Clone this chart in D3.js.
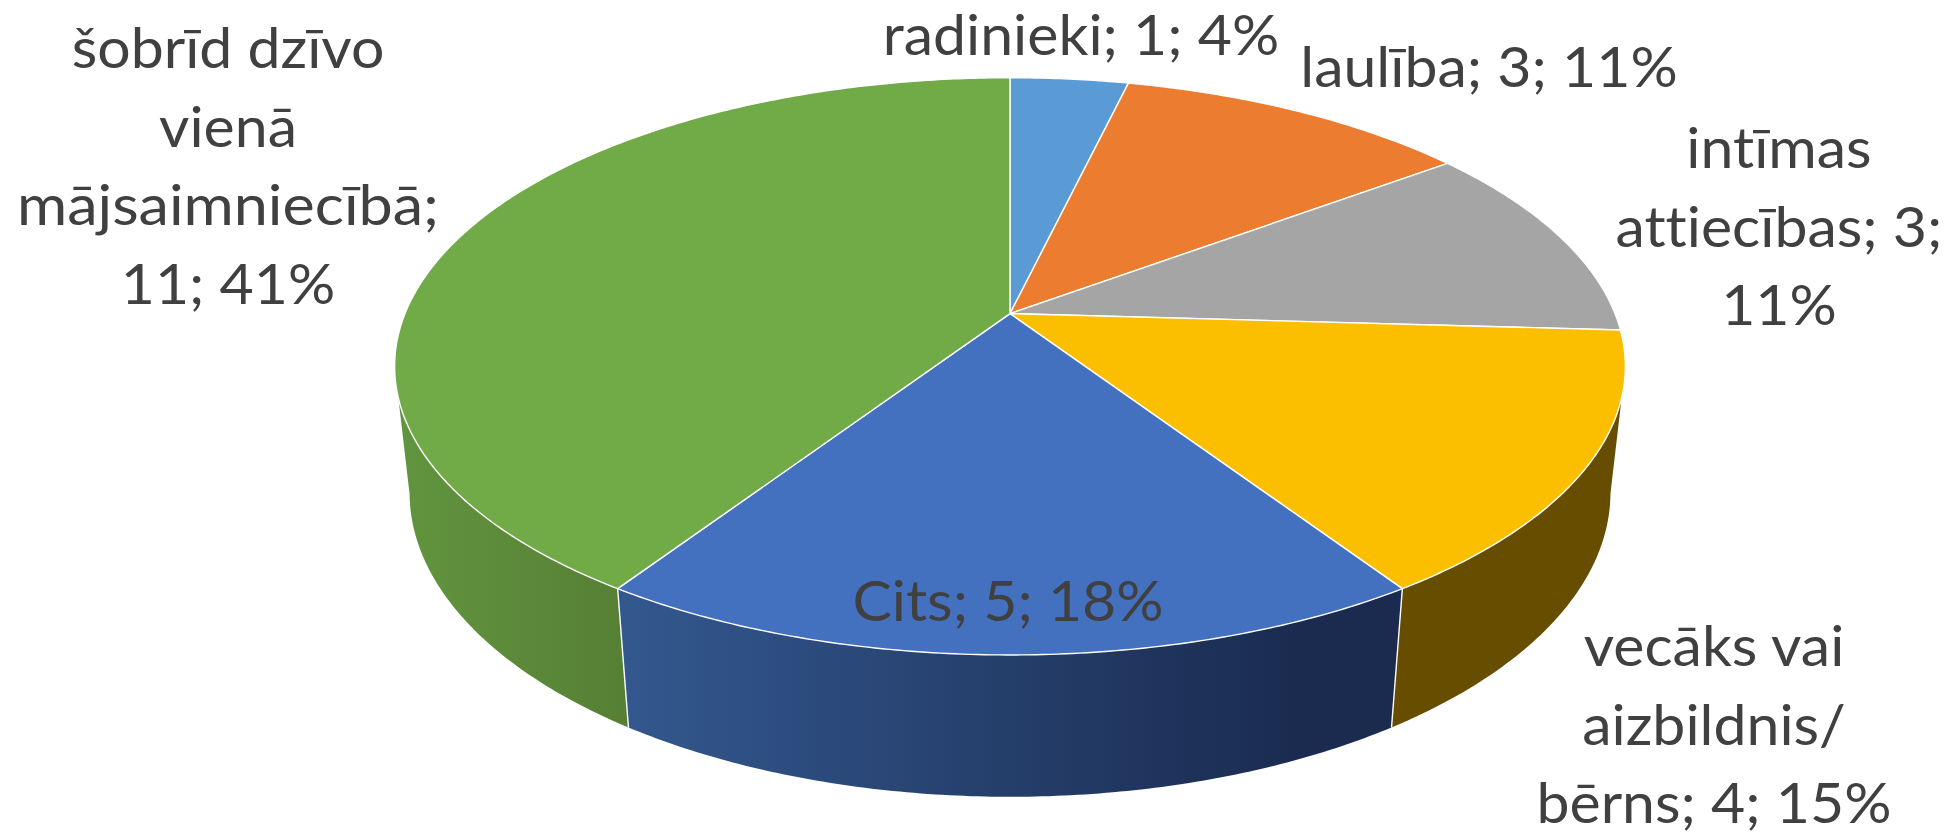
<!DOCTYPE html>
<html><head><meta charset="utf-8">
<script src="https://cdn.jsdelivr.net/npm/d3@7/dist/d3.min.js"></script>
<style>html,body{margin:0;padding:0;background:#fff}svg{display:block}text{font-family:Lato,"Open Sans",sans-serif;fill:#404040;text-anchor:middle;font-variant-ligatures:none}</style>
</head><body><svg id="c" width="1951" height="835"></svg>
<script>
const categories = ["radinieki","laulība","intīmas attiecības","vecāks vai aizbildnis/ bērns","Cits","šobrīd dzīvo vienā mājsaimniecībā"];
const values = [1,3,3,4,5,11];
const topColors = ["#5B9BD5","#EC7C30","#A5A5A5","#FBBF00","#4371BF","#70AB47"];
const labelLines = [
  ["radinieki; 1; 4%"],
  ["laulība; 3; 11%"],
  ["intīmas","attiecības; 3;","11%"],
  ["vecāks vai","aizbildnis/","bērns; 4; 15%"],
  ["Cits; 5; 18%"],
  ["šobrīd dzīvo","vienā","mājsaimniecībā;","11; 41%"]
];
const labelAnchors = [[1081,55],[1489,87],[1779,168],[1714,666],[1008,621],[228,68]];

const W=1951,H=835,cx=1010,cy=313.6,A=605,B=279,K=0.1827,M=0.024,N=127.5,lineH=78.5,fontSize=57,sx=1.035;
const svg=d3.select("#c");
const defs=svg.append("defs");
function grad(id,x1,x2,stops){
  const g=defs.append("linearGradient").attr("id",id).attr("gradientUnits","userSpaceOnUse").attr("x1",x1).attr("x2",x2).attr("y1",0).attr("y2",0);
  stops.forEach(s=>g.append("stop").attr("offset",s[0]).attr("stop-color",s[1]));
}
grad("gGreen",395,630,[[0,"#62953f"],[1,"#567f34"]]);
grad("gBlue",617,1300,[[0,"#33588f"],[1,"#1a2b4f"]]);
const sideFill=["none","none","none","#664D00","url(#gBlue)","url(#gGreen)"];

const topP=t=>{const u=Math.sin(t),w=Math.cos(t),d=1+K*w;return [cx+A*u/d,cy-B*w/d];};
const botP=t=>{const u=Math.sin(t),w=Math.cos(t),d=1+K*w+M;return [cx+A*u/d,cy+(-B*w+N)/d];};
const arcs=d3.pie().sort(null).value(d=>d)(values);
const line=d3.line();
const samples=(a,b)=>{const n=Math.max(2,Math.ceil((b-a)/0.01));return d3.range(n+1).map(i=>a+(b-a)*i/n);};
const visA=Math.acos(-K),visB=2*Math.PI-visA;

// sides
arcs.forEach((d,i)=>{
  const a=Math.max(d.startAngle,visA),b=Math.min(d.endAngle,visB);
  if(b<=a||sideFill[i]==="none")return;
  const ts=samples(a,b);
  const pts=ts.map(topP).concat(ts.slice().reverse().map(botP));
  svg.append("path").attr("d",line(pts)+"Z").attr("fill",sideFill[i]);
});
// side seams
arcs.forEach(d=>{
  const t=d.endAngle;
  if(t>visA&&t<visB) svg.append("path").attr("d",line([topP(t),botP(t)])).attr("stroke","#fff").attr("stroke-width",1.4).attr("fill","none");
});
// top slices
arcs.forEach((d,i)=>{
  const pts=[[cx,cy]].concat(samples(d.startAngle,d.endAngle).map(topP));
  svg.append("path").attr("d",line(pts)+"Z").attr("fill",topColors[i]).attr("stroke","#fff").attr("stroke-width",1.4).attr("stroke-linejoin","round");
});
// labels
labelLines.forEach((ls,i)=>{
  ls.forEach((s,j)=>{
    const x=labelAnchors[i][0],y=labelAnchors[i][1]+j*lineH;
    const k=s==="mājsaimniecībā;"?sx*1.035:sx;
    svg.append("text").attr("transform",`translate(${x},${y}) scale(${k},1)`).attr("font-size",fontSize).text(s);
  });
});
</script></body></html>
